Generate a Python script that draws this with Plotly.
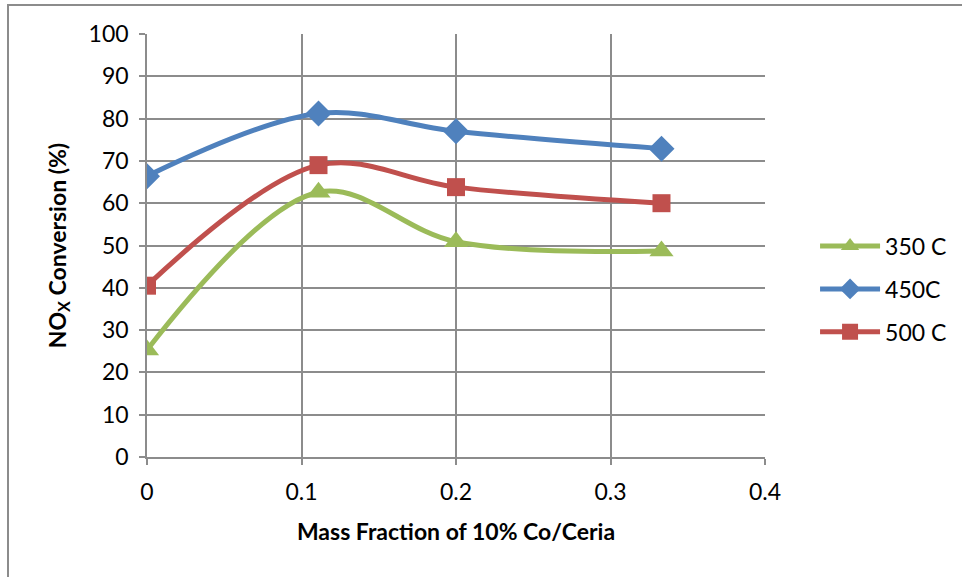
import plotly.graph_objects as go

# Mass fraction of 10% Co/Ceria in the catalyst mix
mass_fraction = [0.0, 0.111, 0.2, 0.333]

# NOx conversion (%) at each temperature
conv_350 = [25.3, 62.6, 50.9, 48.7]
conv_450 = [66.4, 81.2, 77.0, 72.9]
conv_500 = [40.5, 69.0, 63.8, 60.0]

series = [
    ("350 C", conv_350, "#9BBB59", "triangle-up", 21),
    ("450C", conv_450, "#4F81BD", "diamond", 20),
    ("500 C", conv_500, "#C0504D", "square", 18),
]

W, H = 962, 577
L, R, T, B = 147, 197, 34, 120

fig = go.Figure()
for name, vals, color, sym, size in series:
    fig.add_trace(go.Scatter(
        x=mass_fraction, y=vals, name=name, mode="lines+markers",
        legendgroup=name,
        line=dict(color=color, width=5, shape="spline", smoothing=1.0),
        marker=dict(symbol=sym, size=size, color=color, line=dict(width=0)),
    ))

font = "Lato, 'Open Sans', Arial, sans-serif"
grid = "#8c8c8c"

fig.update_layout(
    width=W, height=H,
    margin=dict(l=L, r=R, t=T, b=B, autoexpand=False),
    paper_bgcolor="white", plot_bgcolor="white",
    font=dict(family=font, size=23, color="black"),
    showlegend=True,
    legend=dict(x=1.081, y=0.397, xanchor="left", yanchor="middle",
                font=dict(size=23), itemwidth=60, traceorder="grouped",
                tracegroupgap=10, bgcolor="rgba(0,0,0,0)"),
    xaxis=dict(
        range=[0, 0.4], tickvals=[0, 0.1, 0.2, 0.3, 0.4],
        ticktext=["0", "0.1", "0.2", "0.3", "0.4"],
        showgrid=True, gridcolor=grid, gridwidth=1.5,
        showline=True, linecolor=grid, linewidth=1.5,
        ticks="outside", ticklen=6, tickcolor=grid, tickwidth=1.5,
        ticklabelstandoff=8,
        zeroline=False,
        title=dict(text="<b>Mass Fraction of 10% Co/Ceria</b>", standoff=20,
                   font=dict(size=23)),
    ),
    yaxis=dict(
        range=[0, 100], tickvals=list(range(0, 101, 10)),
        showgrid=True, gridcolor=grid, gridwidth=1.5,
        showline=True, linecolor=grid, linewidth=1.5,
        ticks="outside", ticklen=6, tickcolor=grid, tickwidth=1.5,
        ticklabelstandoff=6,
        zeroline=False,
        title=dict(text="<b>NO<sub>X</sub> Conversion (%)</b>", standoff=16,
                   font=dict(size=23)),
    ),
)

# Chart-area border
pw, ph = W - L - R, H - T - B
fig.add_shape(
    type="rect", xref="paper", yref="paper",
    x0=(8 - L) / pw, x1=(W + 5 - L) / pw,
    y0=-(H + 5 - T - ph) / ph, y1=1 + (T - 5) / ph,
    line=dict(color="#8c8c8c", width=2), fillcolor="rgba(0,0,0,0)",
    layer="below",
)

fig.write_html("out.html")
